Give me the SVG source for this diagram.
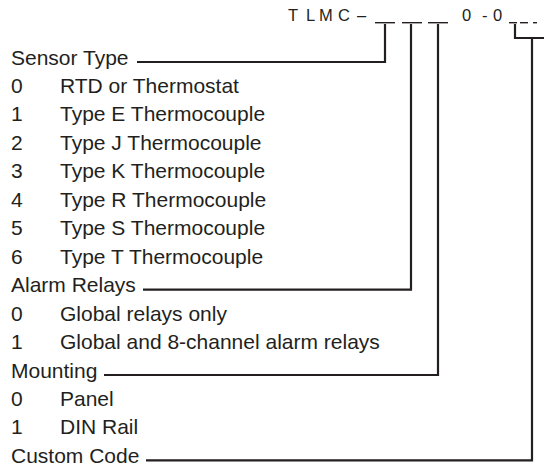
<svg xmlns="http://www.w3.org/2000/svg" width="544" height="466" viewBox="0 0 544 466">
<style>
text{font-family:"Liberation Sans",Arial,sans-serif;fill:#231f20}
.h{font-size:16.5px}
.t{font-size:21px}
.c{fill:none;stroke:#231f20;stroke-width:2.2}
.b{stroke:#231f20;stroke-width:1.4}
</style>
<rect width="544" height="466" fill="#fff"/>
<g id="header">
<text class="h" x="288 306 319 338 357" y="20.5">TLMC–</text>
<text class="h" x="462 482 493" y="20.5">0-0</text>
<line class="b" x1="375" y1="22.7" x2="395" y2="22.7"/>
<line class="b" x1="402" y1="22.7" x2="422" y2="22.7"/>
<line class="b" x1="428" y1="22.7" x2="448" y2="22.7"/>
<line class="b" x1="509" y1="22.7" x2="517" y2="22.7"/>
<line class="b" x1="520" y1="22.7" x2="528" y2="22.7"/>
<line class="b" x1="533" y1="22.7" x2="537" y2="22.7"/>
</g>
<g id="sensor">
<text class="t" x="11" y="64.5">Sensor Type</text>
<text class="t" x="11" y="93">0</text><text class="t" x="60" y="93">RTD or Thermostat</text>
<text class="t" x="11" y="121.4">1</text><text class="t" x="60" y="121.4">Type E Thermocouple</text>
<text class="t" x="11" y="149.9">2</text><text class="t" x="60" y="149.9">Type J Thermocouple</text>
<text class="t" x="11" y="178.3">3</text><text class="t" x="60" y="178.3">Type K Thermocouple</text>
<text class="t" x="11" y="206.8">4</text><text class="t" x="60" y="206.8">Type R Thermocouple</text>
<text class="t" x="11" y="235.2">5</text><text class="t" x="60" y="235.2">Type S Thermocouple</text>
<text class="t" x="11" y="263.7">6</text><text class="t" x="60" y="263.7">Type T Thermocouple</text>
</g>
<g id="alarm">
<text class="t" x="11" y="292.2">Alarm Relays</text>
<text class="t" x="11" y="320.6">0</text><text class="t" x="60" y="320.6">Global relays only</text>
<text class="t" x="11" y="349.1">1</text><text class="t" x="60" y="349.1">Global and 8-channel alarm relays</text>
</g>
<g id="mounting">
<text class="t" x="11" y="377.5">Mounting</text>
<text class="t" x="11" y="406">0</text><text class="t" x="60" y="406">Panel</text>
<text class="t" x="11" y="434.4">1</text><text class="t" x="60" y="434.4">DIN Rail</text>
</g>
<g id="custom">
<text class="t" x="11" y="462.9">Custom Code</text>
</g>
<g id="connectors">
<polyline class="c" points="385,24 385,62 137,62"/>
<polyline class="c" points="411,24 411,289.7 143,289.7"/>
<polyline class="c" points="438,24 438,375 104,375"/>
<polyline class="c" points="515,24 515,38 546,38"/>
<polyline class="c" points="532,38 532,460.4 146,460.4"/>
</g>
</svg>
